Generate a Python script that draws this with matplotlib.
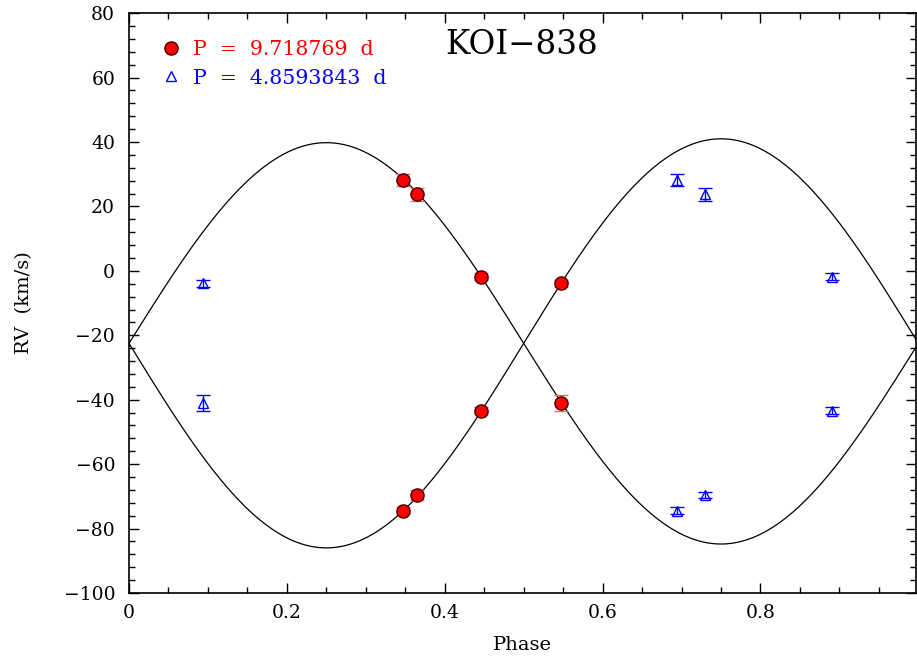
"""
KOI-838 radial velocity curve, phased on two candidate periods.
"""

import matplotlib
matplotlib.use("Agg")
import matplotlib.pyplot as plt
from matplotlib.lines import Line2D
from matplotlib.ticker import MultipleLocator
import numpy as np

# Phased on P = 9.718769 d (red circles)
phase_long = [0.347, 0.365, 0.446, 0.547]
rv_a_long = [28.2, 23.8, -1.8, -41.0]
rv_b_long = [-74.4, -69.5, -43.4, -3.9]
err_a_long = [2.0, 2.0, 1.0, 2.5]
err_b_long = [1.0, 1.5, 1.0, 1.0]

# Phased on P = 4.8593843 d (blue triangles)
phase_short = [0.094, 0.694, 0.730, 0.891]
rv_a_short = [-41.0, 28.2, 23.8, -1.8]
rv_b_short = [-3.9, -74.4, -69.5, -43.4]
err_a_short = [2.5, 2.0, 2.0, 1.0]
err_b_short = [1.0, 1.0, 1.0, 1.0]

# orbit model (circular): systemic velocity and semi-amplitudes
gamma = -22.5
k_a = 62.3
k_b = 63.5

label_long = "P  =  9.718769  d"
label_short = "P  =  4.8593843  d"
title = "KOI\u2212838"

plt.rcParams["font.family"] = ["DejaVu Serif", "DejaVu Sans"]

fig = plt.figure(figsize=(9.17, 6.58), dpi=100)
ax = fig.add_axes([0.1407, 0.0988, 0.8582, 0.8812])

# model curves
ph = np.linspace(0, 1, 500)
ax.plot(ph, gamma + k_a * np.sin(2 * np.pi * ph), color="black", lw=0.9)
ax.plot(ph, gamma - k_b * np.sin(2 * np.pi * ph), color="black", lw=0.9)

# short period points
for rv, err in [(rv_a_short, err_a_short), (rv_b_short, err_b_short)]:
    ax.errorbar(phase_short, rv, yerr=err, fmt="^", color="blue",
                mfc="none", mec="blue", ms=7, mew=1.0, elinewidth=1.0,
                capsize=5, capthick=1.0, zorder=3)

# long period points
for rv, err in [(rv_a_long, err_a_long), (rv_b_long, err_b_long)]:
    ax.errorbar(phase_long, rv, yerr=err, fmt="o", color="#ff6060",
                mfc="red", mec="#400000", ms=9.5, mew=1.0, elinewidth=1.0,
                capsize=5, capthick=1.0, zorder=4)

ax.set_xlim(0, 0.997)
ax.set_ylim(-100, 80)
ax.xaxis.set_major_locator(MultipleLocator(0.2))
ax.xaxis.set_minor_locator(MultipleLocator(0.05))
ax.yaxis.set_major_locator(MultipleLocator(20))
ax.yaxis.set_minor_locator(MultipleLocator(4))
ax.set_xticks([0, 0.2, 0.4, 0.6, 0.8])
ax.set_xticklabels(["0", "0.2", "0.4", "0.6", "0.8"])
ax.tick_params(which="both", direction="in", top=True, right=True,
               labelsize=13.5, width=1.0)
ax.tick_params(which="major", length=7, pad=8)
ax.tick_params(axis="y", which="major", pad=10)
ax.tick_params(which="minor", length=4)
for s in ax.spines.values():
    s.set_linewidth(1.2)

ax.set_xlabel("Phase", fontsize=14, labelpad=10)
ax.set_ylabel("RV  (km/s)", fontsize=14, labelpad=22)

ax.text(0.497, 70, title, fontsize=23.5, ha="center", va="center")

handles = [
    Line2D([], [], ls="none", marker="o", ms=9.5, mfc="red", mec="#400000"),
    Line2D([], [], ls="none", marker="^", ms=7, mfc="none", mec="blue"),
]
leg = ax.legend(handles, [label_long, label_short], loc="upper left",
                bbox_to_anchor=(0.017, 0.985), frameon=False, fontsize=14.8,
                handlelength=1.0, handletextpad=0.55, labelspacing=0.45,
                labelcolor=["red", "blue"])

fig.savefig("out.png", dpi=100)
